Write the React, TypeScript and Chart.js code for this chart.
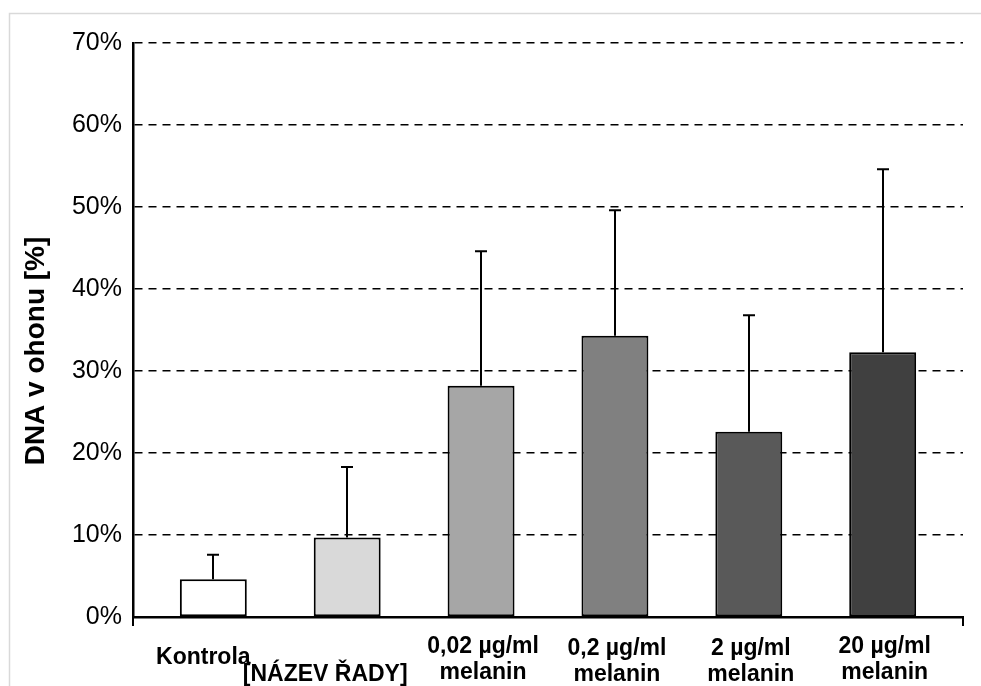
import React, { useEffect, useRef } from "react";
import { Chart, registerables } from "chart.js";

Chart.register(...registerables);

// Category labels (one entry per line of text)
const categoryLabels: string[][] = [
  ["Kontrola"],
  ["[NÁZEV ŘADY]"],
  ["0,02 µg/ml", "melanin"],
  ["0,2 µg/ml", "melanin"],
  ["2 µg/ml", "melanin"],
  ["20 µg/ml", "melanin"],
];

// Mean tail DNA (%) and upper error (SD, %)
const meanValues: number[] = [4.6, 9.7, 28.2, 34.3, 22.6, 32.3];
const errorValues: number[] = [3.0, 8.6, 16.4, 15.3, 14.2, 22.3];

const barColors: string[] = ["#ffffff", "#d9d9d9", "#a6a6a6", "#808080", "#595959", "#404040"];

const yTickValues: number[] = [0, 10, 20, 30, 40, 50, 60, 70];
const yAxisTitle = "DNA v ohonu [%]";

const FONT = "'Liberation Sans', Arial, sans-serif";

// Per-label placement tweaks below the axis (dx from bar centre, baseline of first line)
const labelPlacement = [
  { dx: -10, base: 47 },
  { dx: -22, base: 64 },
  { dx: 2, base: 36 },
  { dx: 2, base: 38 },
  { dx: 2, base: 38 },
  { dx: 2, base: 36 },
];

const decorPlugin = {
  id: "decor",
  beforeDraw(chart: any) {
    const { ctx, width, height } = chart;
    ctx.save();
    ctx.fillStyle = "#ffffff";
    ctx.fillRect(0, 0, width, height);
    ctx.strokeStyle = "#d9d9d9";
    ctx.lineWidth = 1.5;
    ctx.strokeRect(9.5, 13.5, width + 20, height + 20);
    ctx.restore();
  },
  afterDatasetsDraw(chart: any) {
    const { ctx, chartArea, scales } = chart;
    const xs = scales.x;
    const ys = scales.y;
    ctx.save();

    // upper error bars
    ctx.strokeStyle = "#000000";
    ctx.lineWidth = 2;
    meanValues.forEach((m, i) => {
      const x = Math.round(xs.getPixelForValue(i));
      const y0 = ys.getPixelForValue(m);
      const y1 = ys.getPixelForValue(m + errorValues[i]);
      ctx.beginPath();
      ctx.moveTo(x, y0);
      ctx.lineTo(x, y1);
      ctx.moveTo(x - 6, y1);
      ctx.lineTo(x + 6, y1);
      ctx.stroke();
    });

    // end tick marks on the category axis
    ctx.lineWidth = 2;
    [chartArea.left, chartArea.right].forEach((x: number) => {
      ctx.beginPath();
      ctx.moveTo(x, chartArea.bottom);
      ctx.lineTo(x, chartArea.bottom + 9);
      ctx.stroke();
    });

    // category labels
    ctx.fillStyle = "#000000";
    ctx.font = `bold 23px ${FONT}`;
    ctx.textAlign = "center";
    ctx.textBaseline = "alphabetic";
    categoryLabels.forEach((lines, i) => {
      const p = labelPlacement[i];
      const cx = xs.getPixelForValue(i) + p.dx;
      lines.forEach((line, k) => {
        ctx.fillText(line, cx, chartArea.bottom + p.base + k * 26);
      });
    });

    // y axis title
    ctx.font = `bold 28px ${FONT}`;
    ctx.translate(36, 351);
    ctx.rotate(-Math.PI / 2);
    ctx.textAlign = "center";
    ctx.textBaseline = "middle";
    ctx.fillText(yAxisTitle, 0, 0);
    ctx.restore();
  },
};

export default function App() {
  const canvasRef = useRef<HTMLCanvasElement | null>(null);

  useEffect(() => {
    const canvas = canvasRef.current;
    if (!canvas) return;
    const chart = new Chart(canvas, {
      type: "bar",
      data: {
        datasets: [
          {
            data: meanValues.map((v, i) => ({ x: i, y: v })),
            backgroundColor: barColors,
            borderColor: "#000000",
            borderWidth: 2,
            borderSkipped: false,
            barPercentage: 0.5,
            categoryPercentage: 1,
          },
        ],
      },
      options: {
        responsive: false,
        animation: false,
        devicePixelRatio: 1,
        layout: { padding: { top: 43, right: 18, left: 0, bottom: 0 } },
        plugins: {
          legend: { display: false },
          tooltip: { enabled: false },
          title: { display: false },
        },
        scales: {
          x: {
            type: "linear",
            offset: false,
            min: -0.6,
            max: 5.6,
            afterBuildTicks: (scale: any) => {
              scale.ticks = categoryLabels.map((_, i) => ({ value: i }));
            },
            ticks: { display: false },
            grid: { display: false, offset: false },
            border: { display: true, color: "#000000", width: 2.5 },
            afterFit: (scale: any) => {
              scale.height = 69;
            },
          },
          y: {
            min: 0,
            max: 70,
            afterBuildTicks: (scale: any) => {
              scale.ticks = yTickValues.map((v) => ({ value: v }));
            },
            ticks: {
              color: "#000000",
              font: { family: FONT, size: 25 },
              padding: 11,
              callback: (v: any) => `${v}%`,
            },
            grid: {
              color: "#000000",
              lineWidth: 1.6,
              drawTicks: false,
            },
            border: { display: true, color: "#000000", width: 2.5, dash: [8, 6] },
            afterFit: (scale: any) => {
              scale.width = 133;
            },
          },
        },
      },
      plugins: [decorPlugin],
    });
    return () => chart.destroy();
  }, []);

  return (
    <div style={{ position: "absolute", left: 0, top: 0, width: 981, height: 686 }}>
      <canvas ref={canvasRef} width={981} height={686} />
    </div>
  );
}
